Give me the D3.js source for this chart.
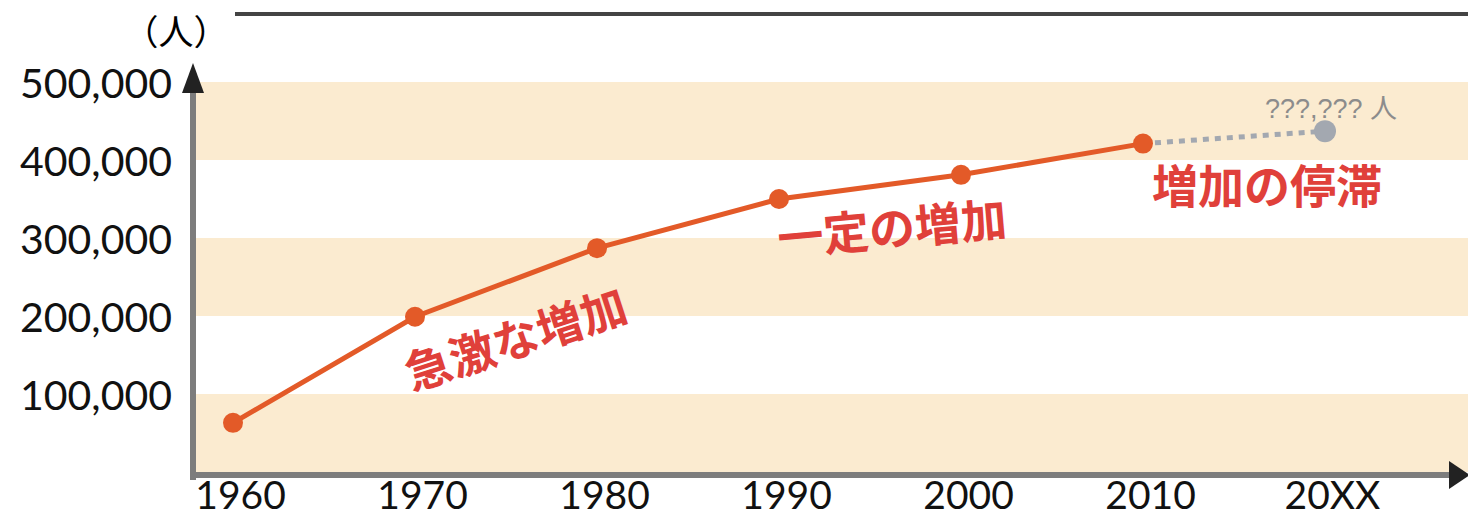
<!DOCTYPE html>
<html>
<head>
<meta charset="utf-8">
<script src="https://cdn.jsdelivr.net/npm/d3@7"></script>
<style>
  html, body { margin: 0; padding: 0; background: #fff; }
  svg { display: block; }
</style>
</head>
<body>
<svg id="chart" width="1468" height="519"></svg>
<script>
// Population by decade
const years = ["1960", "1970", "1980", "1990", "2000", "2010", "20XX"];
const population = [63000, 199000, 287000, 350000, 381000, 421000];
const forecast = 437000;            // value for the unknown future year
const yTicks = [100000, 200000, 300000, 400000, 500000];
const bands = [[0, 100000], [200000, 300000], [400000, 500000]];
const phaseLabels = ["急激な増加", "一定の増加", "増加の停滞"];
const forecastLabel = "???,??? 人";
const unitLabel = "（人）";

const svg = d3.select("#chart");
const W = 1468;
const axisX = 193, axisY = 475;

const x = d3.scalePoint().domain(years).range([233, 1325]);
const y = d3.scaleLinear().domain([0, 500000]).range([472, 82]);

// alternating background bands
svg.append("g").selectAll("rect").data(bands).join("rect")
  .attr("x", axisX + 3).attr("width", W - axisX - 3)
  .attr("y", d => y(d[1])).attr("height", d => y(d[0]) - y(d[1]))
  .attr("fill", "#fbebd0");

// top rule
svg.append("rect").attr("x", 235).attr("y", 12).attr("width", W - 235).attr("height", 4)
  .attr("fill", "#444");

// axes lines with arrowheads
svg.append("line").attr("x1", axisX).attr("x2", axisX).attr("y1", 88).attr("y2", 480)
  .attr("stroke", "#7d7d7d").attr("stroke-width", 6);
svg.append("line").attr("x1", axisX - 3).attr("x2", 1452).attr("y1", axisY).attr("y2", axisY)
  .attr("stroke", "#7d7d7d").attr("stroke-width", 6);
svg.append("path").attr("d", `M${axisX},63 L${axisX + 11},93 L${axisX - 11},93 Z`).attr("fill", "#222");
svg.append("path").attr("d", `M1470,${axisY} L1449,${axisY - 14} L1449,${axisY + 14} Z`).attr("fill", "#222");

// y tick labels
const yAxis = svg.append("g").attr("transform", `translate(${axisX - 21},0)`)
  .call(d3.axisLeft(y).tickValues(yTicks).tickFormat(d3.format(",")).tickSize(0).tickPadding(0));
yAxis.select(".domain").remove();
yAxis.selectAll("text")
  .attr("font-family", "Lato, 'Open Sans', sans-serif").attr("font-size", 41)
  .attr("fill", "#111").attr("dy", "0.38em");

// x tick labels
const xAxis = svg.append("g").attr("transform", `translate(7,${axisY})`)
  .call(d3.axisBottom(x).tickSize(0).tickPadding(0));
xAxis.select(".domain").remove();
xAxis.selectAll("text")
  .attr("font-family", "Lato, 'Open Sans', sans-serif").attr("font-size", 39)
  .attr("fill", "#111").attr("dy", "0.86em");

// unit label
svg.append("text").attr("x", 176).attr("y", 45).attr("text-anchor", "middle")
  .attr("font-family", "'Noto Sans CJK JP', sans-serif").attr("font-size", 35)
  .attr("fill", "#000").text(unitLabel);

// dotted projection to the unknown year
const lastYear = years[population.length - 1];
const nextYear = years[population.length];
svg.append("line")
  .attr("x1", x(lastYear)).attr("y1", y(population[population.length - 1]))
  .attr("x2", x(nextYear)).attr("y2", y(forecast))
  .attr("stroke", "#a3a8b0").attr("stroke-width", 5).attr("stroke-dasharray", "6 6");
svg.append("circle").attr("cx", x(nextYear)).attr("cy", y(forecast)).attr("r", 11)
  .attr("fill", "#a3a8b0");
svg.append("text").attr("x", 1397).attr("y", 118).attr("text-anchor", "end")
  .attr("font-family", "'Liberation Sans', 'Noto Sans CJK JP', sans-serif").attr("font-size", 27)
  .attr("fill", "#8c8c8c").text(forecastLabel);

// population line and markers
const pts = population.map((v, i) => [x(years[i]), y(v)]);
svg.append("path").datum(pts)
  .attr("d", d3.line())
  .attr("fill", "none").attr("stroke", "#e35a28").attr("stroke-width", 5);
svg.append("g").selectAll("circle").data(pts).join("circle")
  .attr("cx", d => d[0]).attr("cy", d => d[1]).attr("r", 10).attr("fill", "#e35a28");

// phase annotations
const phasePos = [
  { cx: 516, cy: 340, rot: -18 },
  { cx: 892, cy: 229, rot: -5 },
  { cx: 1267, cy: 186, rot: 0 }
];
svg.append("g").selectAll("text").data(phaseLabels).join("text")
  .attr("transform", (d, i) => `translate(${phasePos[i].cx},${phasePos[i].cy}) rotate(${phasePos[i].rot})`)
  .attr("text-anchor", "middle").attr("dy", "0.36em")
  .attr("font-family", "'Noto Sans CJK JP', sans-serif").attr("font-weight", 700)
  .attr("font-size", 46).attr("fill", "#e0403a")
  .text(d => d);
</script>
</body>
</html>
